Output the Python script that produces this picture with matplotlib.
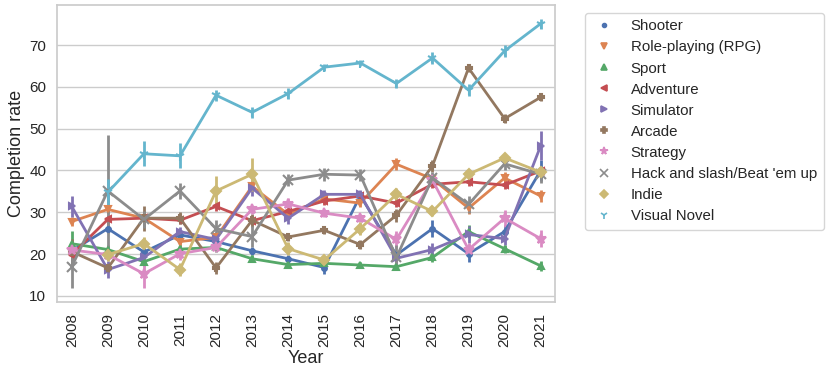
import matplotlib
matplotlib.use("Agg")
import matplotlib.pyplot as plt
import numpy as np
import seaborn as sns
from matplotlib.lines import Line2D

years = list(range(2008, 2022))

genres = ['Shooter', 'Role-playing (RPG)', 'Sport', 'Adventure', 'Simulator', 'Arcade',
          'Strategy', "Hack and slash/Beat 'em up", 'Indie', 'Visual Novel']
markers = ['.', 'v', '^', '<', '>', 'P', '*', 'x', 'D', '1']

# mean completion rate per year (nan = no data)
shooter = [20.8, 26.1, 20.5, 24.6, 23.0, 20.8, 18.9, 16.8, 34.0, 19.8, 26.1, 20.1, 25.4, 40.0]
rpg = [27.8, 30.7, 28.6, 23.0, 24.0, 36.2, 29.5, 33.2, 32.2, 41.5, 38.0, 31.0, 38.2, 33.9]
sport = [22.5, 21.1, 18.2, 21.2, 21.6, 18.9, 17.5, 17.8, 17.4, 17.0, 19.2, 25.4, 21.3, 17.2]
adventure = [19.9, 28.3, 28.6, 28.1, 31.4, 28.0, 30.2, 32.7, 33.9, 32.2, 36.7, 37.3, 36.5, 39.9]
simulator = [31.4, 16.3, 19.2, 25.4, 23.5, 35.8, 28.6, 34.3, 34.3, 19.0, 21.1, 24.7, 23.7, 45.9]
arcade = [20.6, 16.7, 28.6, 28.6, 16.7, 28.1, 24.1, 25.7, 22.3, 29.3, 41.1, 64.5, 52.4, 57.5]
strategy = [21.0, 19.9, 15.3, 20.1, 21.6, 30.7, 32.0, 29.8, 28.6, 23.5, 37.7, 21.1, 28.6, 23.7]
hack = [17.0, 35.1, 28.3, 35.1, 26.1, 24.2, 37.7, 39.1, 38.9, 19.2, 38.2, 31.9, 41.6, 39.1]
indie = [np.nan, 19.9, 22.5, 16.3, 35.1, 39.1, 21.3, 18.6, 26.1, 34.3, 30.2, 39.1, 43.0, 39.6]
visual_novel = [np.nan, 34.8, 44.0, 43.5, 58.0, 53.9, 58.4, 64.7, 65.7, 60.8, 66.9, 59.2, 68.6, 75.1]

# half-length of error bars
shooter_err = [1.5, 1.0, 1.0, 1.0, 1.0, 1.0, 1.0, 1.5, 1.0, 1.0, 2.0, 2.0, 1.5, 2.5]
rpg_err = [1.0, 1.0, 1.0, 1.0, 1.0, 1.0, 1.0, 1.0, 1.0, 1.5, 1.0, 1.5, 1.5, 1.5]
sport_err = [3.0, 1.0, 1.0, 1.0, 1.0, 0.8, 0.8, 0.8, 0.8, 0.8, 1.0, 1.5, 1.0, 1.2]
adventure_err = [1.5, 1.0, 1.0, 1.0, 1.0, 1.0, 1.0, 1.0, 1.0, 1.0, 1.0, 1.0, 1.0, 1.0]
simulator_err = [2.5, 2.0, 1.5, 1.0, 1.0, 2.0, 1.5, 1.0, 1.0, 1.5, 1.5, 2.0, 1.5, 3.5]
arcade_err = [3.0, 1.0, 3.0, 1.5, 1.5, 1.5, 1.0, 1.0, 1.0, 1.5, 1.5, 1.0, 1.0, 1.0]
strategy_err = [1.0, 1.0, 3.5, 1.5, 1.0, 1.0, 1.5, 1.0, 1.0, 2.0, 1.5, 1.5, 2.0, 2.0]
hack_err = [5.0, 13.5, 2.0, 2.0, 2.0, 2.5, 1.5, 1.5, 1.5, 3.0, 1.5, 2.0, 1.5, 2.0]
indie_err = [np.nan, 1.5, 1.5, 1.5, 3.5, 4.0, 1.5, 1.0, 1.5, 1.5, 1.0, 1.0, 1.0, 1.0]
visual_novel_err = [np.nan, 3.2, 3.0, 3.0, 1.3, 1.3, 1.3, 0.8, 0.8, 1.0, 1.5, 1.5, 1.5, 1.2]

series = [shooter, rpg, sport, adventure, simulator, arcade, strategy, hack, indie, visual_novel]
errors = [shooter_err, rpg_err, sport_err, adventure_err, simulator_err, arcade_err,
          strategy_err, hack_err, indie_err, visual_novel_err]

sns.set_theme(style="whitegrid")
plt.rcParams['font.family'] = ['Liberation Sans', 'DejaVu Sans']
colors = sns.color_palette("deep", 10)

fig = plt.figure(figsize=(8.31, 3.70), dpi=100)
ax = fig.add_axes([0.069, 0.184, 0.599, 0.802])

x = np.arange(len(years))
handles = []
for name, vals, err, m, c in zip(genres, series, errors, markers, colors):
    vals = np.array(vals, dtype=float)
    err = np.array(err, dtype=float)
    ms = 7 if m in ('x', '1', '.', '*') else 5
    ax.errorbar(x, vals, yerr=err, color=c, lw=2, marker=m, ms=ms, mew=1.5,
                elinewidth=2, capsize=0)
    handles.append(Line2D([], [], color=c, marker=m, ls='none', ms=ms * 0.8, mew=1.2))

ax.set_xticks(x)
ax.set_xticklabels([str(y) for y in years], rotation=90, fontsize=11)
ax.tick_params(axis='y', labelsize=11)
ax.set_xlim(-0.4, len(years) - 0.6)
ax.set_xlabel('Year', fontsize=13, labelpad=2)
ax.set_ylabel('Completion rate', fontsize=13, labelpad=3)
ax.grid(axis='x', visible=False)
ax.tick_params(axis='both', pad=2)

ax.legend(handles, genres, loc='upper left', bbox_to_anchor=(1.045, 1.0), fontsize=10.8,
          frameon=True, handlelength=1.6, handletextpad=1.0, borderpad=0.45,
          labelspacing=0.47)

fig.savefig('out.png', dpi=100)
